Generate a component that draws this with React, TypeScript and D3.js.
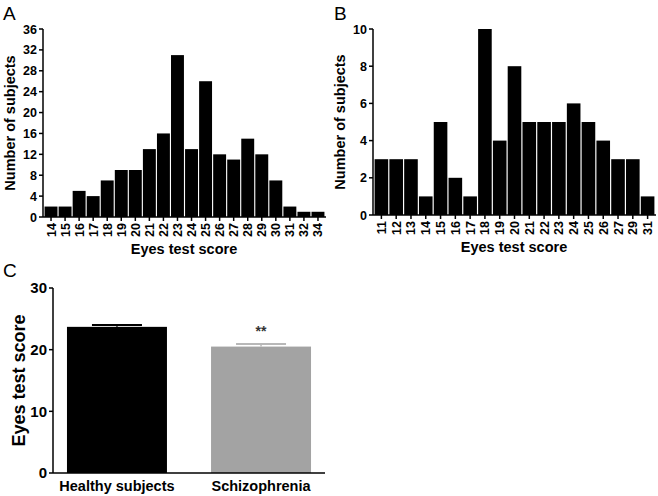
import React from "react";
import * as d3 from "d3";

const scoresA = ["14","15","16","17","18","19","20","21","22","23","24","25","26","27","28","29","30","31","32","34"];
const countsA = [2,2,5,4,7,9,9,13,16,31,13,26,12,11,15,12,7,2,1,1];
const ticksA = [0,4,8,12,16,20,24,28,32,36];

const scoresB = ["11","12","13","14","15","16","17","18","19","20","21","22","23","24","25","26","27","29","31"];
const countsB = [3,3,3,1,5,2,1,10,4,8,5,5,5,6,5,4,3,3,1];
const ticksB = [0,2,4,6,8,10];

const groupsC = ["Healthy subjects","Schizophrenia"];
const meansC = [23.7,20.5];
const errC = [0.3,0.4];
const colorsC = ["#000000","#a3a3a3"];
const errColorsC = ["#000000","#b8b8b8"];
const ticksC = [0,10,20,30];

const FONT = "Liberation Sans, Arial, sans-serif";

function Histogram({ cats, vals, ticks, yMax, x0, x1, yTop, yBot, axisX, label, labelX, titleY, ytitleX }: any) {
  const x = d3.scaleBand<string>().domain(cats).range([x0, x1]).paddingInner(0.08).paddingOuter(0.04);
  const y = d3.scaleLinear().domain([0, yMax]).range([yBot, yTop]);
  return (
    <g>
      <text x={labelX} y={20} fontSize={19} fontFamily={FONT}>{label}</text>
      {cats.map((c: string, i: number) => (
        <rect key={c} x={x(c)} y={y(vals[i])} width={x.bandwidth()} height={yBot - y(vals[i])} fill="#000" />
      ))}
      <line x1={axisX} x2={axisX} y1={yTop} y2={yBot} stroke="#000" strokeWidth={1.5} />
      <line x1={axisX} x2={x1 + 1} y1={yBot} y2={yBot} stroke="#000" strokeWidth={1.5} />
      {ticks.map((t: number) => (
        <g key={t}>
          <line x1={axisX - 4} x2={axisX} y1={y(t)} y2={y(t)} stroke="#000" strokeWidth={1.5} />
          <text x={axisX - 6} y={y(t)} dy="0.36em" textAnchor="end" fontSize={12.5} fontWeight="bold" fontFamily={FONT}>{t}</text>
        </g>
      ))}
      {cats.map((c: string) => {
        const cx = (x(c) as number) + x.bandwidth() / 2;
        return (
          <g key={c}>
            <line x1={cx} x2={cx} y1={yBot} y2={yBot + 4} stroke="#000" strokeWidth={1.5} />
            <text transform={`translate(${cx},${yBot + 6}) rotate(-90)`} dy="0.36em" textAnchor="end" fontSize={12.5} fontWeight="bold" fontFamily={FONT}>{c}</text>
          </g>
        );
      })}
      <text x={(axisX + x1) / 2} y={titleY} textAnchor="middle" fontSize={14.5} fontWeight="bold" fontFamily={FONT}>Eyes test score</text>
      <text transform={`translate(${ytitleX},${(yTop + yBot) / 2}) rotate(-90)`} textAnchor="middle" fontSize={14.5} fontWeight="bold" fontFamily={FONT}>Number of subjects</text>
    </g>
  );
}

export default function App() {
  const xC = d3.scaleBand<string>().domain(groupsC).range([53, 325]).paddingInner(0.306).paddingOuter(0.097);
  const yC = d3.scaleLinear().domain([0, 30]).range([473, 288]);
  return (
    <svg width={658} height={496} style={{ position: "absolute", left: 0, top: 0, background: "#fff" }}>
      <rect width={658} height={496} fill="#fff" />
      <Histogram cats={scoresA} vals={countsA} ticks={ticksA} yMax={36} x0={44} x1={325} yTop={29} yBot={217} axisX={43} label="A" labelX={3} titleY={254} ytitleX={15} />
      <Histogram cats={scoresB} vals={countsB} ticks={ticksB} yMax={10} x0={374} x1={655} yTop={29} yBot={215} axisX={373} label="B" labelX={334} titleY={252} ytitleX={345} />
      <g>
        <text x={3} y={277} fontSize={19} fontFamily={FONT}>C</text>
        {groupsC.map((g, i) => {
          const bx = xC(g) as number;
          const cx = bx + xC.bandwidth() / 2;
          return (
            <g key={g}>
              <rect x={bx} y={yC(meansC[i])} width={xC.bandwidth()} height={473 - yC(meansC[i])} fill={colorsC[i]} />
              <line x1={cx} x2={cx} y1={yC(meansC[i])} y2={yC(meansC[i] + errC[i])} stroke={errColorsC[i]} strokeWidth={1.5} />
              <line x1={cx - 25} x2={cx + 25} y1={yC(meansC[i] + errC[i])} y2={yC(meansC[i] + errC[i])} stroke={errColorsC[i]} strokeWidth={2} />
              <text x={cx} y={491} textAnchor="middle" fontSize={14.5} fontWeight="bold" fontFamily={FONT}>{g}</text>
            </g>
          );
        })}
        <text x={(xC("Schizophrenia") as number) + xC.bandwidth() / 2} y={336} textAnchor="middle" fontSize={14} fontWeight="bold" fill="#333" fontFamily={FONT}>**</text>
        <line x1={53} x2={53} y1={288} y2={473} stroke="#000" strokeWidth={1.5} />
        <line x1={53} x2={325} y1={473} y2={473} stroke="#000" strokeWidth={1.5} />
        {ticksC.map((t) => (
          <g key={t}>
            <line x1={49} x2={53} y1={yC(t)} y2={yC(t)} stroke="#000" strokeWidth={1.5} />
            <text x={47} y={yC(t)} dy="0.36em" textAnchor="end" fontSize={15} fontWeight="bold" fontFamily={FONT}>{t}</text>
          </g>
        ))}
        <text transform={`translate(25,${(288 + 473) / 2}) rotate(-90)`} textAnchor="middle" fontSize={18} fontWeight="bold" fontFamily={FONT}>Eyes test score</text>
      </g>
    </svg>
  );
}
